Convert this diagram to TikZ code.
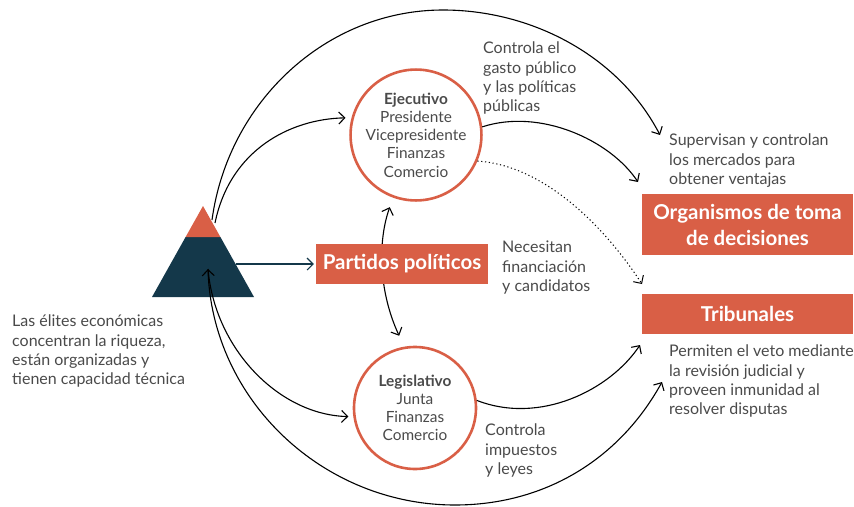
\documentclass[tikz,border=0pt]{standalone}
\usepackage{fontspec}
\setmainfont{Lato}
\usetikzlibrary{arrows.meta,calc}
\definecolor{cred}{HTML}{D95F46}
\definecolor{cnavy}{HTML}{14384A}
\definecolor{ctext}{HTML}{4A4A4A}
\pgfdeclarelayer{background}
\pgfsetlayers{background,main}
\begin{document}
\begin{tikzpicture}[x=1pt,y=-1pt,
  lbl/.style={font=\fontsize{16}{19.3}\selectfont, text=ctext, align=left, inner sep=0pt, anchor=north west},
  org/.style={draw=cred, line width=2.6pt, circle, minimum size=122pt, inner sep=0pt, align=center, text=ctext, font=\fontsize{15.4}{18.2}\selectfont},
  redbox/.style={fill=cred, text=white, font=\fontsize{20.5}{26}\selectfont\bfseries, align=center, inner sep=0pt},
  conn/.style={line width=1.1pt, -{Straight Barb[length=6pt,width=12pt]}},
  biconn/.style={line width=1.1pt, {Straight Barb[length=6pt,width=12pt]}-{Straight Barb[length=6pt,width=12pt]}}
]
\useasboundingbox (0,0) rectangle (854,506);

% elite triangle
\fill[cnavy] (152,297) -- (185.6,237) -- (220.4,237) -- (254,297) -- cycle;
\fill[cred] (185.6,237) -- (203,206) -- (220.4,237) -- cycle;
\coordinate (eliteA) at (212,220);
\coordinate (eliteB) at (215,223);
\coordinate (eliteC) at (208,269);
\coordinate (eliteR) at (235.5,264);

% main nodes
\node[org] (ejec) at (416,135) {\textbf{Ejecutivo}\\Presidente\\Vicepresidente\\Finanzas\\Comercio};
\node[org] (legis) at (415,408) {\textbf{Legislativo}\\Junta\\Finanzas\\Comercio};
\node[redbox, minimum width=172pt, minimum height=40pt] (partidos) at (402,264) {Partidos políticos};
\node[redbox, minimum width=211pt, minimum height=61pt] (organ) at (747.5,224.5) {Organismos de toma\\de decisiones};
\node[redbox, minimum width=211pt, minimum height=40pt] (trib) at (747.5,314) {Tribunales};

% labels
\node[lbl] (lgasto) at (483,42) {Controla el\\gasto público\\y las políticas\\públicas};
\node[lbl] (lsuper) at (669,134) {Supervisan y controlan\\los mercados para\\obtener ventajas};
\node[lbl] (lneces) at (502,241) {Necesitan\\financiación\\y candidatos};
\node[lbl] (lperm) at (669,345) {Permiten el veto mediante\\la revisión judicial y\\proveen inmunidad al\\resolver disputas};
\node[lbl] (limp) at (485,424) {Controla\\impuestos\\y leyes};
\node[lbl] (lelite) at (12,315) {Las élites económicas\\concentran la riqueza,\\están organizadas y\\tienen capacidad técnica};

% free ends
\coordinate (superIn) at (660,135);
\coordinate (organIn) at (638,182);
\coordinate (tribDot) at (642,284);
\coordinate (tribUp) at (640,345);
\coordinate (tribLow) at (662,382);

% connectors
\begin{pgfonlayer}{background}
\draw[biconn, shorten <=10pt, shorten >=12pt] (ejec.250) .. controls (378,240) and (378,290) .. (legis.100);
\end{pgfonlayer}
\draw[conn] (eliteA) .. controls (228,102) and (326,10) .. (443,10) .. controls (532,10) and (619,56) .. (superIn);
\draw[conn, shorten >=6pt] (eliteB) .. controls (230,150) and (290,119) .. (ejec.165);
\draw[conn] (ejec.7) .. controls (540,108) and (610,140) .. (organIn);
\draw[conn, line width=1pt, dash pattern=on 1.2pt off 2.6pt] (ejec.-23) .. controls (540,165) and (600,220) .. (tribDot);
\draw[conn, shorten >=5pt] (eliteC) .. controls (215,350) and (280,415) .. (legis.188);
\draw[biconn] (eliteC) .. controls (212,400) and (323,505) .. (455,505) .. controls (544,505) and (619,460) .. (tribLow);
\draw[conn] (legis.7) .. controls (540,425) and (610,390) .. (tribUp);
\draw[cnavy, line width=1.1pt, -{Straight Barb[length=6pt,width=12pt]}, shorten >=2pt] (eliteR) -- (partidos.west);
\end{tikzpicture}
\end{document}
